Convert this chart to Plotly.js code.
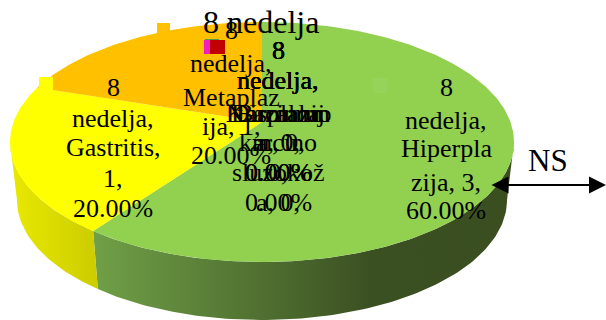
<!DOCTYPE html>
<html>
<head>
<meta charset="utf-8">
<script src="https://cdn.plot.ly/plotly-3.0.1.min.js"></script>
<style>html,body{margin:0;padding:0;background:#fff;overflow:hidden}#c{width:606px;height:320px}</style>
</head>
<body>
<div id="c"></div>
<script>
// ---- data ----
var chartTitle = "8 nedelja";
var categories = ["Hiperplazija", "Gastritis", "Metaplazija", "Displazija", "Karcinom", "Normalna sluzokoža", "Bazalna"];
var counts = [3, 1, 1, 0, 0, 0, 0];
var colors = ["#92D050", "#FFFF00", "#FFC000", "#F01FBE", "#C00000", "#4F9A4A", "#7F7F7F"];
var sideScales = {
  0: [[0, "#70A047"], [0.66, "#3B5022"], [1, "#3A4E20"]],
  1: [[0, "#E9E900"], [1, "#CCCC00"]]
};
var labelHiperplazija = ["8", "nedelja,", "Hiperpla", "zija, 3,", "60.00%"];
var labelGastritis = ["8", "nedelja,", "Gastritis,", "1,", "20.00%"];
var labelMetaplazija = ["8", "nedelja,", "Metaplaz", "ija, 1,", "20.00%"];
var labelDisplazija = ["8", "nedelja,", "Displazij", "a, 0,", "0.00%"];
var labelKarcinom = ["8", "nedelja,", "Karcinom", "m, 0,", "0.00%"];
var labelNormalna = ["8", "nedelja,", "Normalno", "karcino", "sluzokož", "a, 0,"];
var labelBazalna = ["8", "nedelja,", "Bazalna", "", "0,", "0.00%"];
var note = "NS";

// ---- geometry of the tilted pie ----
var K = 1 / 6, TOP = {cx: 262, cy: 122, a: 248.5, b: 116.67}, BASE = {cx: 262, cy: 180, a: 241.6, b: 116.67};
var SIDE_FROM = Math.acos(-K) * 180 / Math.PI, SIDE_TO = 360 - SIDE_FROM;
function rim(g, deg) {
  var t = deg * Math.PI / 180, u = Math.sin(t), v = -Math.cos(t), d = 1 - K * v;
  return [g.cx + g.a * u / d, g.cy + g.b * v / d];
}
function arc(g, from, to) {
  var pts = [], n = Math.max(2, Math.ceil(Math.abs(to - from)));
  for (var i = 0; i <= n; i++) pts.push(rim(g, from + (to - from) * i / n));
  return pts;
}
var total = counts.reduce(function (a, b) { return a + b; }, 0);
var start = 0, tops = [], sides = [];
counts.forEach(function (v, i) {
  var sweep = v / total * 360;
  if (v > 0) {
    var top = [[TOP.cx, TOP.cy]].concat(arc(TOP, start, start + sweep));
    tops.push({type: "scatter", mode: "lines", x: top.map(function (p) { return p[0]; }), y: top.map(function (p) { return p[1]; }),
      fill: "toself", fillcolor: colors[i], line: {width: 0}, hoverinfo: "skip", name: categories[i], showlegend: false});
    if (sideScales[i]) {
      var from = Math.max(start, SIDE_FROM), to = Math.min(start + sweep, SIDE_TO);
      var s = arc(TOP, from, to).concat(arc(BASE, to, from));
      sides.push({type: "scatter", mode: "lines", x: s.map(function (p) { return p[0]; }), y: s.map(function (p) { return p[1]; }),
        fill: "toself", fillgradient: {type: "horizontal", colorscale: sideScales[i]}, line: {width: 0}, hoverinfo: "skip", showlegend: false});
    }
  }
  start += sweep;
});

// ---- text ----
var ann = [], FS = 26, FAM = "Liberation Serif, Times New Roman, serif";
function put(x, y, text, size) {
  if (!text) return;
  ann.push({xref: "x", yref: "y", x: x, y: y, text: text, showarrow: false, xanchor: "center", yanchor: "middle",
    font: {family: FAM, size: size || FS, color: "#000"}});
}
function label(x, ys, lines) { lines.forEach(function (t, i) { put(x, ys[i], t); }); }
var mid = [50, 80, 113, 142, 172, 202];
label(446, [87, 120, 148, 182, 210], labelHiperplazija);
label(113, [87, 118, 147, 178, 208], labelGastritis);
label(231, [30, 63, 97, 126, 155], labelMetaplazija);
label(278, mid, labelDisplazija);
label(278, mid, labelKarcinom);
label(278, mid, labelNormalna);
label(278, mid, labelBazalna);
put(261, 22, chartTitle, 32);
put(548, 160, note, 31);
ann.push({xref: "x", yref: "y", axref: "x", ayref: "y", x: 606, y: 185, ax: 490, ay: 185, text: "", showarrow: true,
  arrowside: "end+start", arrowhead: 2, arrowsize: 1.7, arrowwidth: 2, arrowcolor: "#000", standoff: 0, startstandoff: 0,
  startarrowhead: 2, startarrowsize: 1.7});

// ---- small key squares ----
function sq(x0, y0, x1, y1, c) {
  return {type: "rect", xref: "x", yref: "y", x0: x0, y0: y0, x1: x1, y1: y1, fillcolor: c, line: {width: 0}};
}
var shapes = [
  sq(39, 77, 53, 92, colors[1]),
  sq(157, 23, 170, 37, colors[2]),
  sq(373, 78, 387, 93, "#95D35A"),
  sq(205, 39, 219, 41, colors[5]),
  sq(204, 40, 211, 54, colors[3]),
  sq(210, 40, 225, 54, colors[4])
];

Plotly.newPlot("c", sides.concat(tops), {
  width: 606, height: 320, margin: {l: 0, r: 0, t: 0, b: 0},
  paper_bgcolor: "#fff", plot_bgcolor: "#fff", showlegend: false,
  xaxis: {range: [0, 606], visible: false, fixedrange: true},
  yaxis: {range: [320, 0], visible: false, fixedrange: true},
  annotations: ann, shapes: shapes
}, {displayModeBar: false, staticPlot: true});
</script>
</body>
</html>
